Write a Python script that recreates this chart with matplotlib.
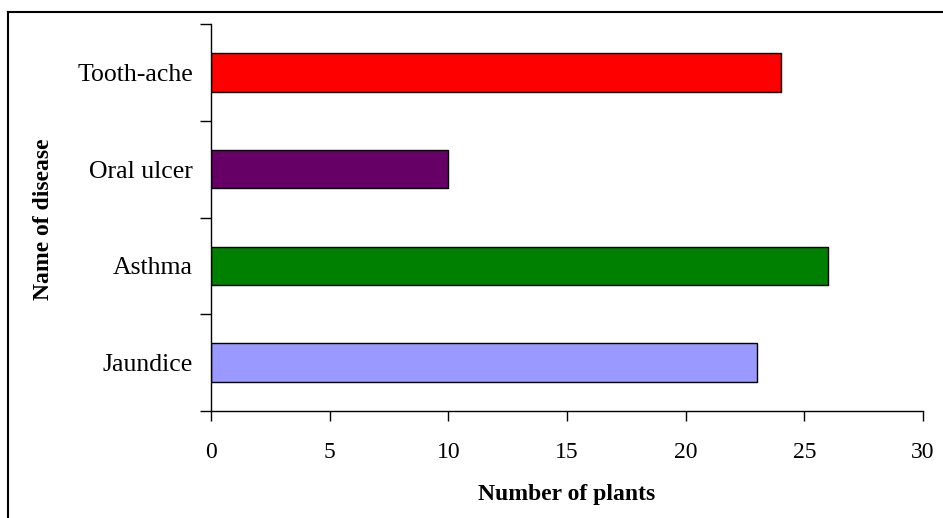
import matplotlib.pyplot as plt
from matplotlib.lines import Line2D

# Datos
enfermedades = ["Jaundice", "Asthma", "Oral ulcer", "Tooth-ache"]
num_plantas = [23, 26, 10, 24]
colores = ["#9999FF", "#008000", "#660066", "#FF0000"]

plt.rcParams['font.family'] = ['Liberation Serif', 'DejaVu Serif']

W, H = 943, 518
fig = plt.figure(figsize=(W / 100, H / 100), dpi=100)
ax = fig.add_axes([211 / W, 1 - 411 / H, (923 - 211) / W, (411 - 24) / H])

pos = list(range(len(enfermedades)))
ax.barh(pos, num_plantas, height=0.4, color=colores, edgecolor="black", linewidth=1)

ax.set_xlim(0, 30)
ax.set_ylim(-0.5, len(enfermedades) - 0.5)
ax.set_xticks(range(0, 31, 5))
ax.tick_params(axis="x", direction="out", length=7, width=1, pad=15, labelsize=17)

# marcas en los limites de categoria, etiquetas en el centro
ax.set_yticks([p - 0.5 for p in pos] + [len(pos) - 0.5])
ax.set_yticklabels([])
ax.set_yticks(pos, minor=True)
ax.set_yticklabels(enfermedades, minor=True)
ax.tick_params(axis="y", which="major", direction="out", length=8, width=1)
ax.tick_params(axis="y", which="minor", length=0, pad=13, labelsize=18.5)

for s in ["top", "right"]:
    ax.spines[s].set_visible(False)
ax.spines["left"].set_linewidth(1)
ax.spines["bottom"].set_linewidth(1)

ax.set_xlabel("Number of plants", fontsize=17, fontweight="bold", labelpad=15.5)
ax.set_ylabel("Name of disease", fontsize=17, fontweight="bold")
ax.yaxis.set_label_coords(-0.220, 0.496)

# marco exterior
fig.add_artist(Line2D([8 / W, 8 / W], [0, 1 - 12 / H], color="black", lw=1.5,
                      transform=fig.transFigure))
fig.add_artist(Line2D([8 / W, 1], [1 - 12 / H, 1 - 12 / H], color="black", lw=1.5,
                      transform=fig.transFigure))

fig.savefig("out.png", dpi=100)
